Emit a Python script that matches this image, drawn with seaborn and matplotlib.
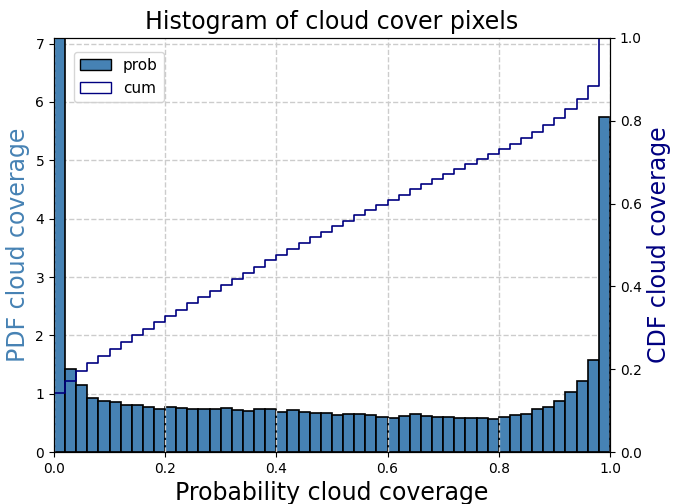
import numpy as np
import matplotlib
matplotlib.use("Agg")
import matplotlib.pyplot as plt
import seaborn as sns
from matplotlib.patches import Patch

# bin edges 0..1, 50 bins
bin_edges = np.linspace(0, 1, 51)
bin_centers = (bin_edges[:-1] + bin_edges[1:]) / 2

# PDF values
pdf_values = [
    7.10, 1.43, 1.155, 0.92, 0.874, 0.862, 0.805, 0.80, 0.776, 0.736,
    0.77, 0.753, 0.736, 0.747, 0.741, 0.753, 0.718, 0.70, 0.736, 0.741,
    0.695, 0.713, 0.69, 0.672, 0.667, 0.632, 0.661, 0.649, 0.638, 0.609,
    0.592, 0.626, 0.661, 0.626, 0.609, 0.598, 0.592, 0.580, 0.586, 0.569,
    0.609, 0.638, 0.661, 0.736, 0.776, 0.879, 1.023, 1.213, 1.575, 5.75,
]

x_ticks = [0.0, 0.2, 0.4, 0.6, 0.8, 1.0]
cdf_ticks = [0.0, 0.2, 0.4, 0.6, 0.8, 1.0]

fig = plt.figure(figsize=(6.74, 5.04), dpi=100)
ax1 = fig.add_axes([0.080, 0.103, 0.825, 0.822])
ax2 = ax1.twinx()

sns.histplot(x=bin_centers, weights=pdf_values, bins=50, binrange=(0, 1),
             stat="count", color="steelblue", edgecolor="black",
             linewidth=1.2, alpha=1, ax=ax1)
sns.histplot(x=bin_centers, weights=pdf_values, bins=50, binrange=(0, 1),
             stat="probability", cumulative=True, element="step", fill=False,
             color="navy", linewidth=1.2, ax=ax2)

ax1.set_xlim(0, 1)
ax1.set_ylim(0, 7.1)
ax2.set_ylim(0, 1.0)
ax1.set_xticks(x_ticks)
ax1.set_yticks(range(8))
ax2.set_yticks(cdf_ticks)

# horizontal grid under the bars, vertical grid on top (from the twin axes)
ax1.grid(axis="y", linestyle="--", color="#cccccc", linewidth=1)
ax1.set_axisbelow(True)
ax2.xaxis.set_visible(True)
ax2.tick_params(axis="x", bottom=False, labelbottom=False, top=False, labeltop=False)
ax2.grid(axis="x", linestyle="--", color="#cccccc", linewidth=1)
ax2.grid(axis="y", visible=False)

for ax in (ax1, ax2):
    ax.tick_params(labelsize=10)

ax1.set_title("Histogram of cloud cover pixels", fontsize=17)
ax1.set_xlabel("Probability cloud coverage", fontsize=17)
ax1.set_ylabel("PDF cloud coverage", fontsize=17, color="steelblue")
ax2.set_ylabel("CDF cloud coverage", fontsize=17, color="navy")

handles = [Patch(facecolor="steelblue", edgecolor="black", label="prob"),
           Patch(facecolor="white", edgecolor="navy", label="cum")]
ax1.legend(handles=handles, loc="upper left", fontsize=11,
           bbox_to_anchor=(0.036, 0.966), borderaxespad=0)

fig.savefig("out.png", dpi=100)
